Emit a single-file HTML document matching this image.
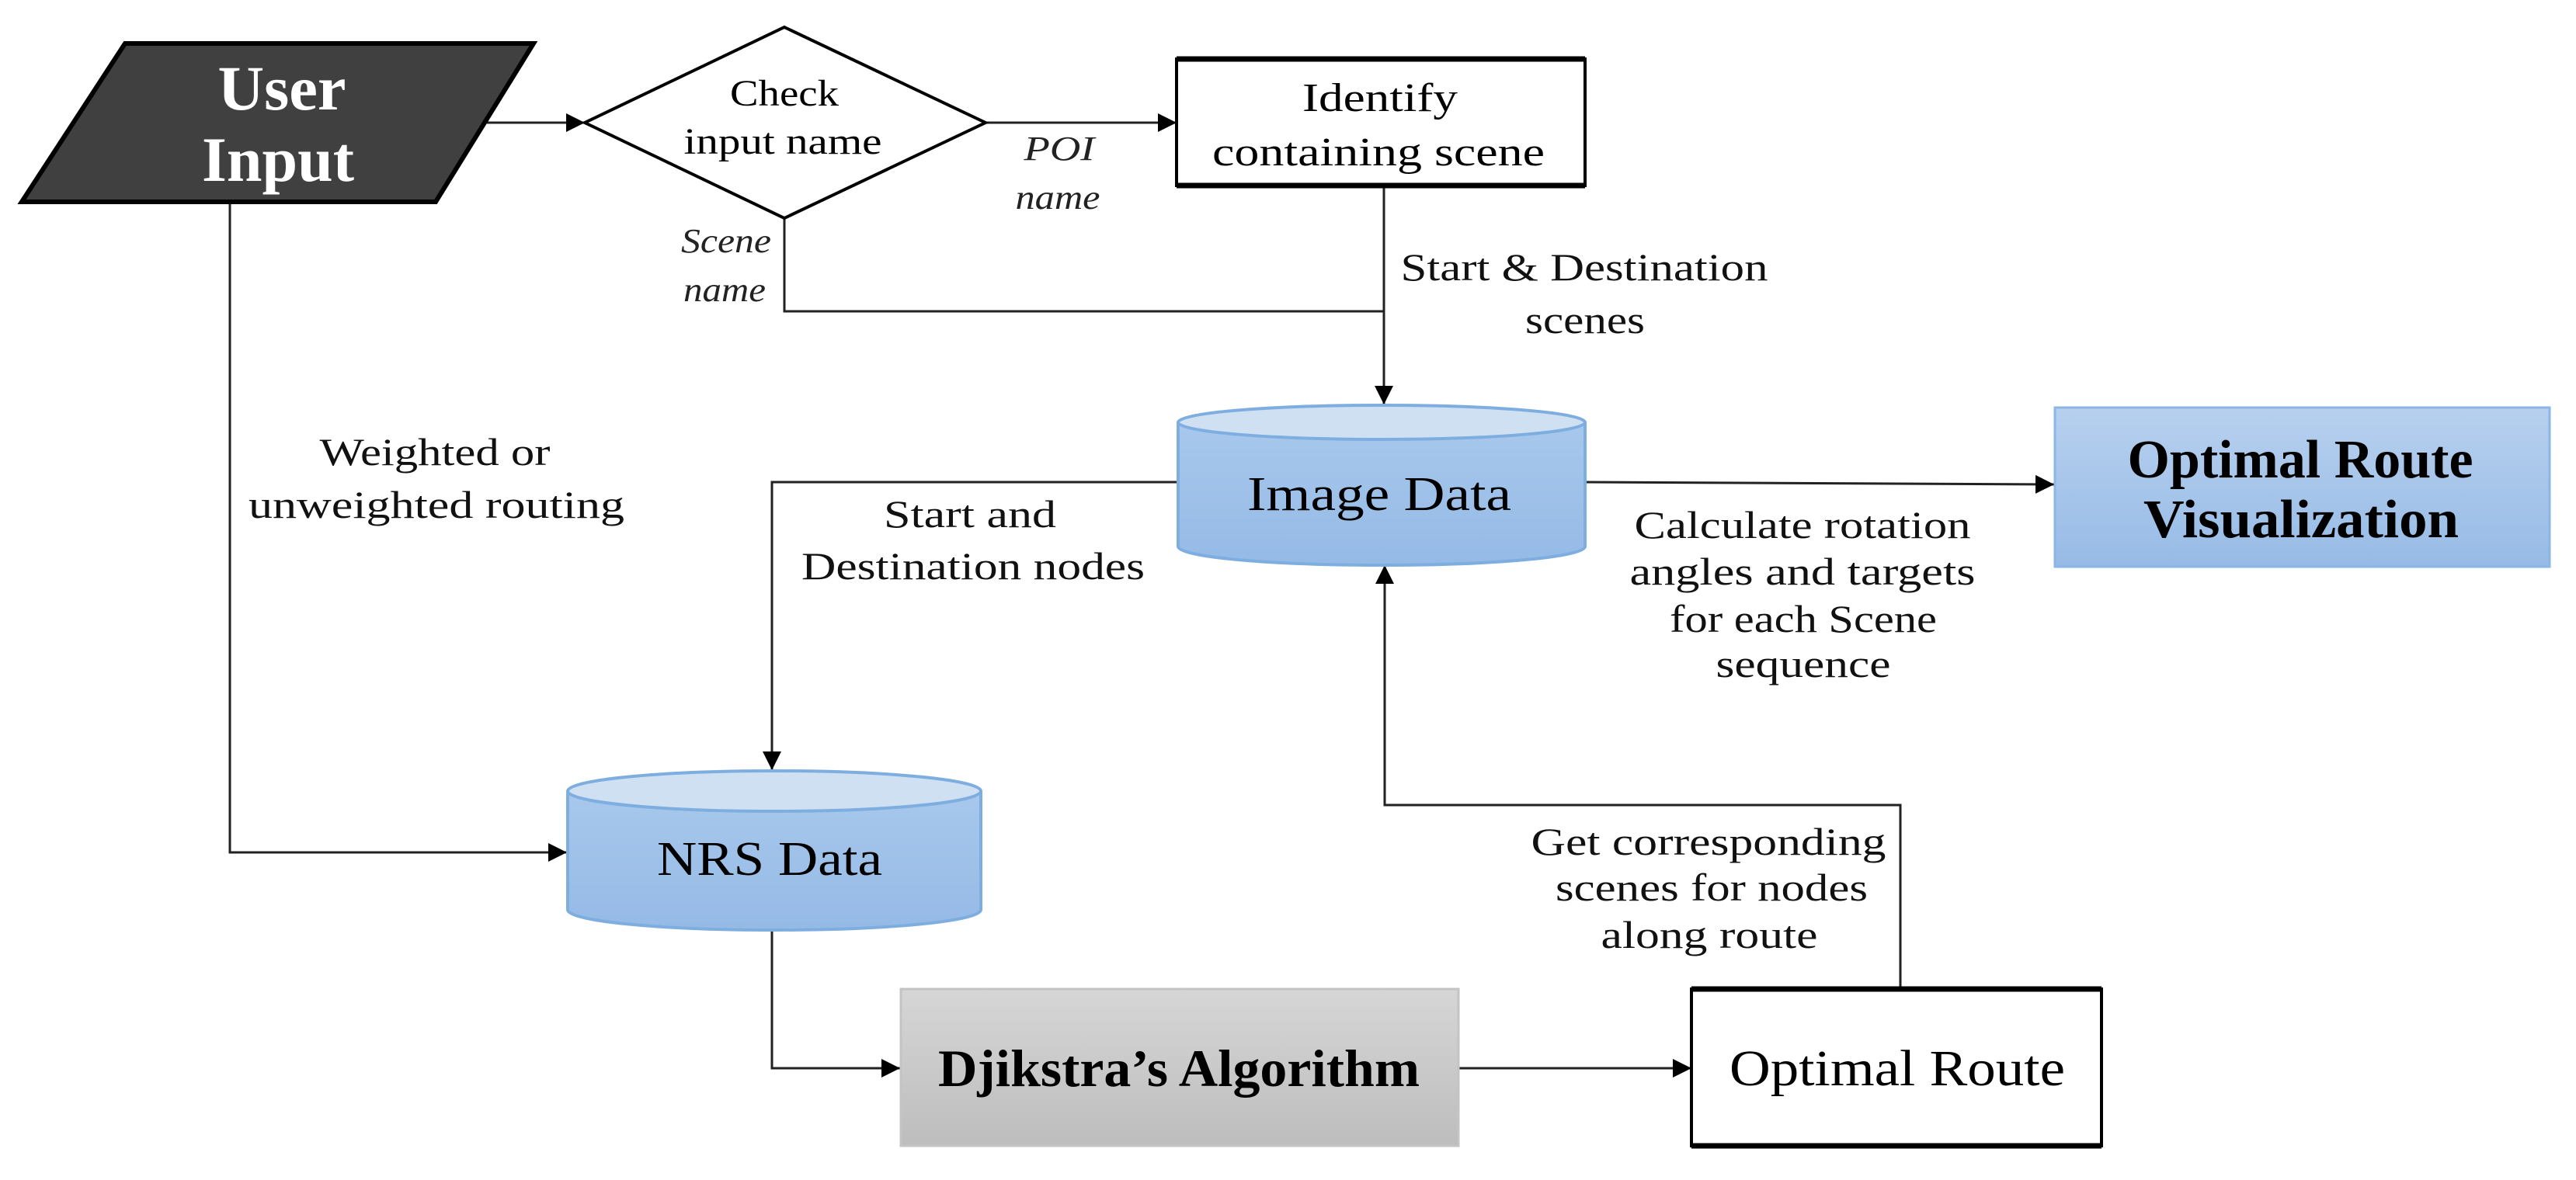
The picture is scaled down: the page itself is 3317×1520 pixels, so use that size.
<!DOCTYPE html>
<html><head><meta charset="utf-8"><style>html,body{margin:0;padding:0;background:#fff}svg{display:block}</style></head>
<body>
<svg width="3317" height="1520" viewBox="0 0 3317 1520" xmlns="http://www.w3.org/2000/svg" font-family="Liberation Serif, serif">
<defs>
<linearGradient id="blue" x1="0" y1="0" x2="0" y2="1"><stop offset="0" stop-color="#b7d0ee"/><stop offset="1" stop-color="#97bbe6"/></linearGradient>
<linearGradient id="cyl" x1="0" y1="0" x2="0" y2="1"><stop offset="0" stop-color="#a8c8ec"/><stop offset="1" stop-color="#95bae6"/></linearGradient>
<linearGradient id="gray" x1="0" y1="0" x2="0" y2="1"><stop offset="0" stop-color="#d6d6d6"/><stop offset="1" stop-color="#bdbdbd"/></linearGradient>
<marker id="ar" viewBox="0 0 10 10" refX="10" refY="5" markerWidth="24" markerHeight="24" markerUnits="userSpaceOnUse" orient="auto"><path d="M0,0 L10,5 L0,10 z" fill="#000"/></marker>
</defs>
<g stroke="#222" stroke-width="3" fill="none">
<line x1="627" y1="158" x2="753" y2="158" marker-end="url(#ar)"/>
<line x1="1269" y1="158" x2="1515" y2="158" marker-end="url(#ar)"/>
<polyline points="1010,281 1010,401 1782,401"/>
<line x1="1782" y1="240" x2="1782" y2="521" marker-end="url(#ar)"/>
<polyline points="1515,621 994,621 994,992" marker-end="url(#ar)"/>
<line x1="2041" y1="621" x2="2645" y2="624" marker-end="url(#ar)"/>
<polyline points="2447,1273 2447,1037 1783,1037 1783,728" marker-end="url(#ar)"/>
<polyline points="296,262 296,1098 730,1098" marker-end="url(#ar)"/>
<polyline points="994,1198 994,1376 1159,1376" marker-end="url(#ar)"/>
<line x1="1878" y1="1376" x2="2178" y2="1376" marker-end="url(#ar)"/>
</g>
<polygon points="161,56 687,56 561,260 28,260" fill="#404040" stroke="#000" stroke-width="6"/>
<text x="363" y="141" font-size="82" font-weight="bold" fill="#fff" text-anchor="middle" textLength="165" lengthAdjust="spacingAndGlyphs">User</text>
<text x="358" y="233" font-size="82" font-weight="bold" fill="#fff" text-anchor="middle" textLength="196" lengthAdjust="spacingAndGlyphs">Input</text>
<polygon points="1010,35 1269,158 1010,281 753,158" fill="#fff" stroke="#000" stroke-width="4"/>
<text x="1010" y="136" font-size="48" text-anchor="middle" textLength="140" lengthAdjust="spacingAndGlyphs">Check</text>
<text x="1008" y="198" font-size="48" text-anchor="middle" textLength="255" lengthAdjust="spacingAndGlyphs">input name</text>
<rect x="1515" y="76" width="526" height="163" fill="#fff" stroke="#000" stroke-width="4"/>
<line x1="1515" y1="76" x2="2041" y2="76" stroke="#000" stroke-width="7"/>
<line x1="1515" y1="239" x2="2041" y2="239" stroke="#000" stroke-width="7"/>
<text x="1777" y="143" font-size="52" text-anchor="middle" textLength="200" lengthAdjust="spacingAndGlyphs">Identify</text>
<text x="1775" y="213" font-size="52" text-anchor="middle" textLength="428" lengthAdjust="spacingAndGlyphs">containing scene</text>
<g font-style="italic" font-size="44" fill="#222" text-anchor="middle">
<text x="1364" y="206" textLength="91" lengthAdjust="spacingAndGlyphs">POI</text>
<text x="1362" y="269" textLength="109" lengthAdjust="spacingAndGlyphs">name</text>
<text x="935" y="325" textLength="116" lengthAdjust="spacingAndGlyphs">Scene</text>
<text x="933" y="388" textLength="106" lengthAdjust="spacingAndGlyphs">name</text>
</g>
<g font-size="50" fill="#111" text-anchor="middle">
<text x="2040" y="361" textLength="473" lengthAdjust="spacingAndGlyphs">Start &amp; Destination</text>
<text x="2041" y="429" textLength="154" lengthAdjust="spacingAndGlyphs">scenes</text>
<text x="560" y="599" textLength="297" lengthAdjust="spacingAndGlyphs">Weighted or</text>
<text x="562" y="667" textLength="484" lengthAdjust="spacingAndGlyphs">unweighted routing</text>
<text x="1249" y="679" textLength="222" lengthAdjust="spacingAndGlyphs">Start and</text>
<text x="1253" y="746" textLength="442" lengthAdjust="spacingAndGlyphs">Destination nodes</text>
<text x="2321" y="693" textLength="433" lengthAdjust="spacingAndGlyphs">Calculate rotation</text>
<text x="2321" y="753" textLength="445" lengthAdjust="spacingAndGlyphs">angles and targets</text>
<text x="2322" y="814" textLength="344" lengthAdjust="spacingAndGlyphs">for each Scene</text>
<text x="2322" y="872" textLength="225" lengthAdjust="spacingAndGlyphs">sequence</text>
<text x="2200" y="1101" textLength="457" lengthAdjust="spacingAndGlyphs">Get corresponding</text>
<text x="2204" y="1160" textLength="402" lengthAdjust="spacingAndGlyphs">scenes for nodes</text>
<text x="2201" y="1221" textLength="279" lengthAdjust="spacingAndGlyphs">along route</text>
</g>
<path d="M1517,544 L1517,704 A262,24 0 0 0 2041,704 L2041,544" fill="url(#cyl)" stroke="#7eaee0" stroke-width="4"/>
<ellipse cx="1779" cy="544" rx="262" ry="22" fill="#cfe0f3" stroke="#7eaee0" stroke-width="4"/>
<text x="1776" y="657" font-size="62" text-anchor="middle" textLength="340" lengthAdjust="spacingAndGlyphs">Image Data</text>
<path d="M731,1019 L731,1172 A266,26 0 0 0 1263,1172 L1263,1019" fill="url(#cyl)" stroke="#7eaee0" stroke-width="4"/>
<ellipse cx="997" cy="1019" rx="266" ry="26" fill="#cfe0f3" stroke="#7eaee0" stroke-width="4"/>
<text x="991" y="1127" font-size="62" text-anchor="middle" textLength="290" lengthAdjust="spacingAndGlyphs">NRS Data</text>
<rect x="2646" y="525" width="637" height="205" fill="url(#blue)" stroke="#8bb6e6" stroke-width="3"/>
<text x="2962" y="615" font-size="70" font-weight="bold" text-anchor="middle" textLength="445" lengthAdjust="spacingAndGlyphs">Optimal Route</text>
<text x="2963" y="692" font-size="70" font-weight="bold" text-anchor="middle" textLength="406" lengthAdjust="spacingAndGlyphs">Visualization</text>
<rect x="1160" y="1274" width="718" height="202" fill="url(#gray)" stroke="#c4c4c4" stroke-width="3"/>
<text x="1518" y="1399" font-size="68" font-weight="bold" text-anchor="middle" textLength="620" lengthAdjust="spacingAndGlyphs">Djikstra’s Algorithm</text>
<rect x="2178" y="1274" width="528" height="202" fill="#fff" stroke="#000" stroke-width="4"/>
<line x1="2178" y1="1274" x2="2706" y2="1274" stroke="#000" stroke-width="7"/>
<line x1="2178" y1="1476" x2="2706" y2="1476" stroke="#000" stroke-width="7"/>
<text x="2443" y="1398" font-size="66" text-anchor="middle" textLength="432" lengthAdjust="spacingAndGlyphs">Optimal Route</text>
</svg>
</body></html>
